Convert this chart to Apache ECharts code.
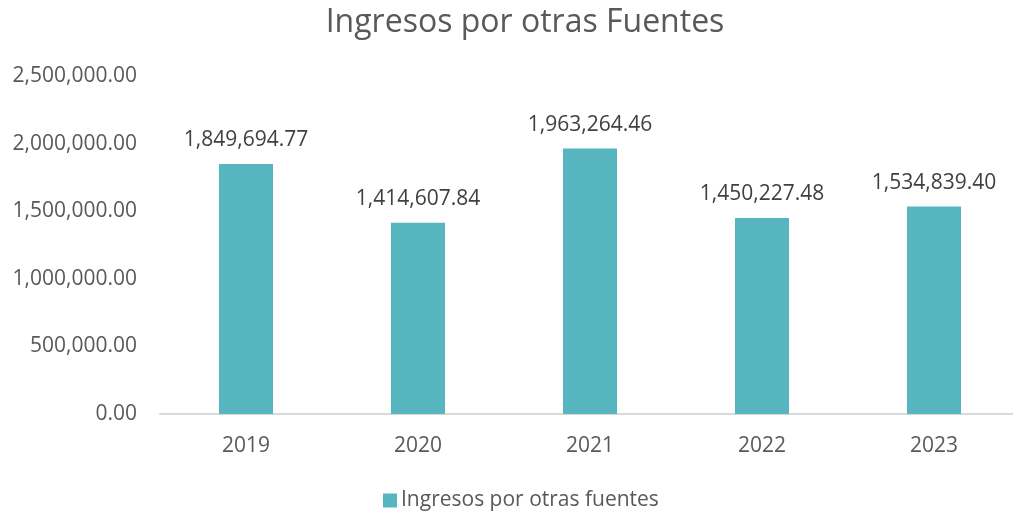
<!DOCTYPE html>
<html><head><meta charset="utf-8">
<script src="https://cdn.jsdelivr.net/npm/echarts@6/dist/echarts.min.js"></script>
<style>html,body{margin:0;padding:0;background:#fff;overflow:hidden}#c{width:1020px;height:515px}</style>
</head><body><div id="c"></div>
<script>
const categories = ['2019','2020','2021','2022','2023'];
const values = [1849694.77, 1414607.84, 1963264.46, 1450227.48, 1534839.40];
const seriesName = 'Ingresos por otras fuentes';
const titleText = 'Ingresos por otras Fuentes';
const FONT = 'Open Sans';
const fmt = v => Number(v).toLocaleString('en-US',{minimumFractionDigits:2,maximumFractionDigits:2});
const chart = echarts.init(document.getElementById('c'));
chart.setOption({
  backgroundColor:'#fff',
  animation:false,
  title:{text:titleText,left:520,textAlign:'center',top:2,textStyle:{fontFamily:FONT,fontSize:32,fontWeight:'normal',color:'#595959'}},
  legend:{bottom:4,left:383,padding:0,itemWidth:14,itemHeight:14,itemGap:6,icon:'rect',
    textStyle:{fontFamily:FONT,fontSize:21,color:'#595959',padding:[0,0,0,-1]},data:[seriesName]},
  grid:{left:160,width:860,top:76,bottom:101},
  xAxis:{type:'category',data:categories,axisTick:{show:false},
    axisLine:{lineStyle:{color:'#d9d9d9',width:2}},
    axisLabel:{fontFamily:FONT,fontSize:21,color:'#595959',margin:22}},
  yAxis:{type:'value',min:0,max:2500000,interval:500000,splitLine:{show:false},
    axisLine:{show:false},axisTick:{show:false},
    axisLabel:{fontFamily:FONT,fontSize:21,color:'#595959',margin:23,formatter:v=>fmt(v)}},
  series:[{name:seriesName,type:'bar',data:values,barWidth:54,
    itemStyle:{color:'#57b5bf'},
    label:{show:true,position:'top',distance:13,fontFamily:FONT,fontSize:21,color:'#404040',formatter:p=>fmt(p.value)}}]
});
</script></body></html>
